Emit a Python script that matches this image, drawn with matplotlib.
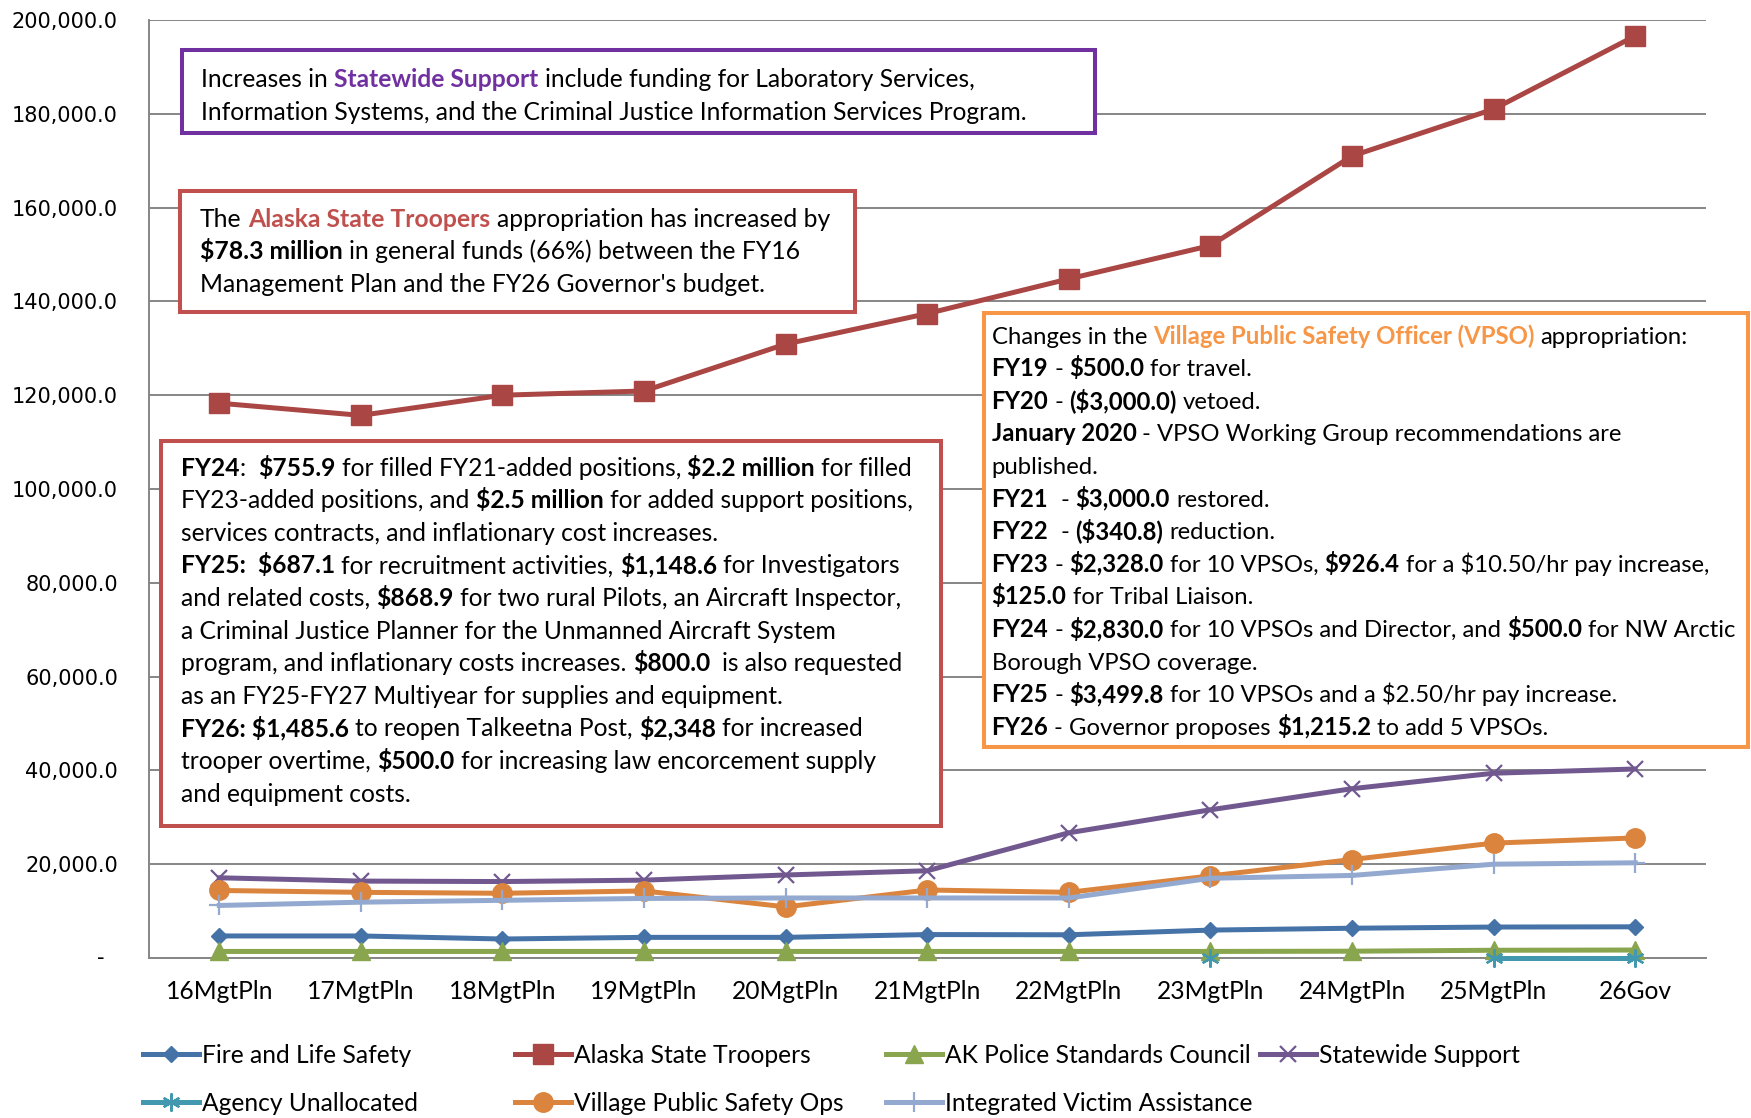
import numpy as np
import matplotlib
matplotlib.use("Agg")
import matplotlib.pyplot as plt
from matplotlib.patches import Rectangle
from matplotlib.lines import Line2D
from matplotlib.ticker import FixedLocator, FuncFormatter

# ---------------- data ----------------
categories = ["16MgtPln", "17MgtPln", "18MgtPln", "19MgtPln", "20MgtPln", "21MgtPln",
              "22MgtPln", "23MgtPln", "24MgtPln", "25MgtPln", "26Gov"]
fire_life_safety = [4700, 4700, 4050, 4400, 4400, 5000, 4950, 5950, 6350, 6600, 6650]
state_troopers = [118300, 115700, 120000, 120900, 130900, 137400, 144800, 151900, 171000, 181000, 196600]
police_standards = [1400, 1400, 1400, 1400, 1400, 1400, 1400, 1400, 1450, 1650, 1700]
statewide_support = [17100, 16400, 16300, 16600, 17700, 18600, 26700, 31600, 36100, 39400, 40300]
agency_unallocated = [np.nan, np.nan, np.nan, np.nan, np.nan, np.nan, np.nan, 0, np.nan, 0, 0]
village_ps_ops = [14400, 14000, 13800, 14300, 10900, 14500, 14000, 17500, 21000, 24500, 25600]
victim_assistance = [11200, 11900, 12300, 12700, 12800, 12800, 12800, 17000, 17600, 20000, 20300]

series_names = ["Fire and Life Safety", "Alaska State Troopers", "AK Police Standards Council",
                "Statewide Support", "Agency Unallocated", "Village Public Safety Ops",
                "Integrated Victim Assistance"]
series_values = [fire_life_safety, state_troopers, police_standards, statewide_support,
                 agency_unallocated, village_ps_ops, victim_assistance]
y_ticks = [0, 20000, 40000, 60000, 80000, 100000, 120000, 140000, 160000, 180000, 200000]

# ---------------- styles ----------------
colors = ["#4572A7", "#AA4643", "#89A54E", "#71588F", "#4198AF", "#DB843D", "#93A9CF"]
markers = ["D", "s", "^", "x", (6, 2, 0), "o", "+"]
msizes = [8.5, 14, 12.5, 12, 13, 14, 14]
mews = [1, 1, 1, 1.6, 1.6, 1, 1.6]
LW = 3.6

W, H = 1751, 1118
FONT = ["Lato", "DejaVu Sans"]
PURPLE, RED, ORANGE, BLACK = "#7030A0", "#C0504D", "#F79646", "#000000"

fig = plt.figure(figsize=(W / 100, H / 100), dpi=100)
renderer = fig.canvas.get_renderer()

ax_l, ax_r, ax_t, ax_b = 148.5, 1706, 20, 958
ax = fig.add_axes([ax_l / W, 1 - ax_b / H, (ax_r - ax_l) / W, (ax_b - ax_t) / H])

x = np.arange(len(categories))
for name, vals, c, m, ms, mew in zip(series_names, series_values, colors, markers, msizes, mews):
    ax.plot(x, vals, color=c, lw=LW, marker=m, ms=ms, mew=mew, mec=c, mfc=c,
            clip_on=False, label=name, zorder=3)

ax.set_xlim(-0.5, len(categories) - 0.5)
ax.set_ylim(0, 200000)
ax.yaxis.set_major_locator(FixedLocator(y_ticks))
ax.yaxis.set_major_formatter(FuncFormatter(lambda v, p: "" if v == 0 else f"{v:,.1f}"))
ax.set_xticks(x)
ax.set_xticklabels(categories)
ax.grid(axis="y", color="#868686", lw=1.4, zorder=1)
ax.set_axisbelow(True)
for s in ["top", "right"]:
    ax.spines[s].set_visible(False)
for s in ["left", "bottom"]:
    ax.spines[s].set_color("#868686")
    ax.spines[s].set_linewidth(1.4)
ax.tick_params(axis="y", length=0, pad=22, labelsize=15)
ax.tick_params(axis="x", length=0, pad=16)
for lab in ax.get_yticklabels():
    lab.set_family("DejaVu Sans")
ax.annotate("-", xy=(0, 0), xycoords=("axes fraction", "data"), xytext=(-44, 0),
            textcoords="offset pixels", ha="right", va="center", fontsize=15,
            family="DejaVu Sans")

# ---------------- rich text helpers ----------------
def make_text(px, py, s, fs, bold, color):
    return fig.text(px / W, 1 - py / H, s, fontsize=fs, fontweight="bold" if bold else "normal",
                    color=color, family=FONT, ha="left", va="baseline", parse_math=False, zorder=8)

def seg_width(s, fs, bold):
    t = make_text(0, 0, s, fs, bold, "k")
    w = t.get_window_extent(renderer).width
    t.remove()
    return w

def space_width(fs, bold):
    return seg_width("n n", fs, bold) - seg_width("nn", fs, bold)

def line_width(line, fs):
    total = 0
    for seg in line:
        s, b = seg[0], seg[1]
        core = s.strip(" ")
        n_sp = len(s) - len(core)
        total += n_sp * space_width(fs, b)
        if core:
            total += seg_width(core, fs, b)
    return total

def fit_size(line, target):
    base = 20.0
    return base * target / line_width(line, base)

def draw_lines(lines, x0, yc0, fs, spacing):
    fs_px = fs * 100 / 72
    for i, line in enumerate(lines):
        yb = yc0 + i * spacing + 0.36 * fs_px
        xx = x0
        for seg in line:
            s, b = seg[0], seg[1]
            c = seg[2] if len(seg) > 2 else BLACK
            core = s.strip(" ")
            lead = len(s) - len(s.lstrip(" "))
            trail = len(s) - len(s.rstrip(" "))
            sp = space_width(fs, b)
            xx += lead * sp
            if core:
                t = make_text(xx, yb, core, fs, b, c)
                xx += t.get_window_extent(renderer).width
            xx += trail * sp

def box(x0, y0, x1, y1, color):
    fig.add_artist(Rectangle((x0 / W, 1 - y1 / H), (x1 - x0) / W, (y1 - y0) / H,
                             transform=fig.transFigure, facecolor="white", edgecolor=color,
                             lw=2.9, zorder=6))

N, B = False, True
box1_lines = [
    [("Increases in ", N), ("Statewide Support", B, PURPLE), (" include funding for Laboratory Services,", N)],
    [("Information Systems, and the Criminal Justice Information Services Program.", N)],
]
box2_lines = [
    [("The ", N), ("Alaska State Troopers", B, RED), (" appropriation has increased by", N)],
    [("$78.3 million", B), (" in general funds (66%) between the FY16", N)],
    [("Management Plan and the FY26 Governor's budget.", N)],
]
box3_lines = [
    [("FY24", B), (":  ", N), ("$755.9", B), (" for filled FY21-added positions, ", N), ("$2.2 million", B), (" for filled", N)],
    [("FY23-added positions, and ", N), ("$2.5 million", B), (" for added support positions,", N)],
    [("services contracts, and inflationary cost increases.", N)],
    [("FY25:  $687.1", B), (" for recruitment activities, ", N), ("$1,148.6", B), (" for Investigators", N)],
    [("and related costs, ", N), ("$868.9", B), (" for two rural Pilots, an Aircraft Inspector,", N)],
    [("a Criminal Justice Planner for the Unmanned Aircraft System", N)],
    [("program, and inflationary costs increases. ", N), ("$800.0", B), ("  is also requested", N)],
    [("as an FY25-FY27 Multiyear for supplies and equipment.", N)],
    [("FY26: $1,485.6", B), (" to reopen Talkeetna Post, ", N), ("$2,348", B), (" for increased", N)],
    [("trooper overtime, ", N), ("$500.0", B), (" for increasing law encorcement supply", N)],
    [("and equipment costs.", N)],
]
box4_lines = [
    [("Changes in the ", N), ("Village Public Safety Officer (VPSO)", B, ORANGE), (" appropriation:", N)],
    [("FY19", B), (" - ", N), ("$500.0", B), (" for travel.", N)],
    [("FY20", B), (" - ", N), ("($3,000.0)", B), (" vetoed.", N)],
    [("January 2020", B), (" - VPSO Working Group recommendations are", N)],
    [("published.", N)],
    [("FY21", B), ("  - ", N), ("$3,000.0", B), (" restored.", N)],
    [("FY22", B), ("  - ", N), ("($340.8)", B), (" reduction.", N)],
    [("FY23", B), (" - ", N), ("$2,328.0", B), (" for 10 VPSOs, ", N), ("$926.4", B), (" for a $10.50/hr pay increase,", N)],
    [("$125.0", B), (" for Tribal Liaison.", N)],
    [("FY24", B), (" - ", N), ("$2,830.0", B), (" for 10 VPSOs and Director, and ", N), ("$500.0", B), (" for NW Arctic", N)],
    [("Borough VPSO coverage.", N)],
    [("FY25", B), (" - ", N), ("$3,499.8", B), (" for 10 VPSOs and a $2.50/hr pay increase.", N)],
    [("FY26", B), (" - Governor proposes ", N), ("$1,215.2", B), (" to add 5 VPSOs.", N)],
]

SP = 32.6
box(182, 50, 1095, 133, PURPLE)
fs1 = fit_size(box1_lines[0], 776)
draw_lines(box1_lines, 201, 78.2, fs1, SP)

box(180, 191, 855, 312, RED)
fs2 = fit_size(box2_lines[0], 629)
draw_lines(box2_lines, 200, 217.8, fs2, SP)

box(161, 441, 941, 826, RED)
fs3 = fit_size(box3_lines[1], 735)
draw_lines(box3_lines, 181, 466.8, fs3, SP)

box(984, 313, 1748, 747, ORANGE)
fs4 = fit_size(box4_lines[9], 748)
draw_lines(box4_lines, 991.5, 335, fs4, SP)

fs_lab = fs1
for lab in ax.get_xticklabels():
    lab.set_family(FONT)
    lab.set_fontsize(fs_lab)

# ---------------- legend (drawn manually in figure pixels) ----------------
leg_cols = [143, 515, 886, 1260]
leg_rows = [1054, 1102]
for k in range(len(series_names)):
    r, cidx = divmod(k, 4)
    hx = leg_cols[cidx]
    yy = leg_rows[r]
    ln = Line2D([hx / W, (hx + 28) / W, (hx + 56) / W], [1 - yy / H] * 3, transform=fig.transFigure,
                color=colors[k], lw=LW, marker=markers[k], ms=msizes[k], mew=mews[k],
                mec=colors[k], mfc=colors[k], markevery=[1])
    fig.add_artist(ln)
    fig.text((hx + 59) / W, 1 - (yy + 0.36 * fs_lab * 100 / 72) / H, series_names[k],
             fontsize=fs_lab, family=FONT, ha="left", va="baseline")

fig.savefig("out.png", dpi=100)
